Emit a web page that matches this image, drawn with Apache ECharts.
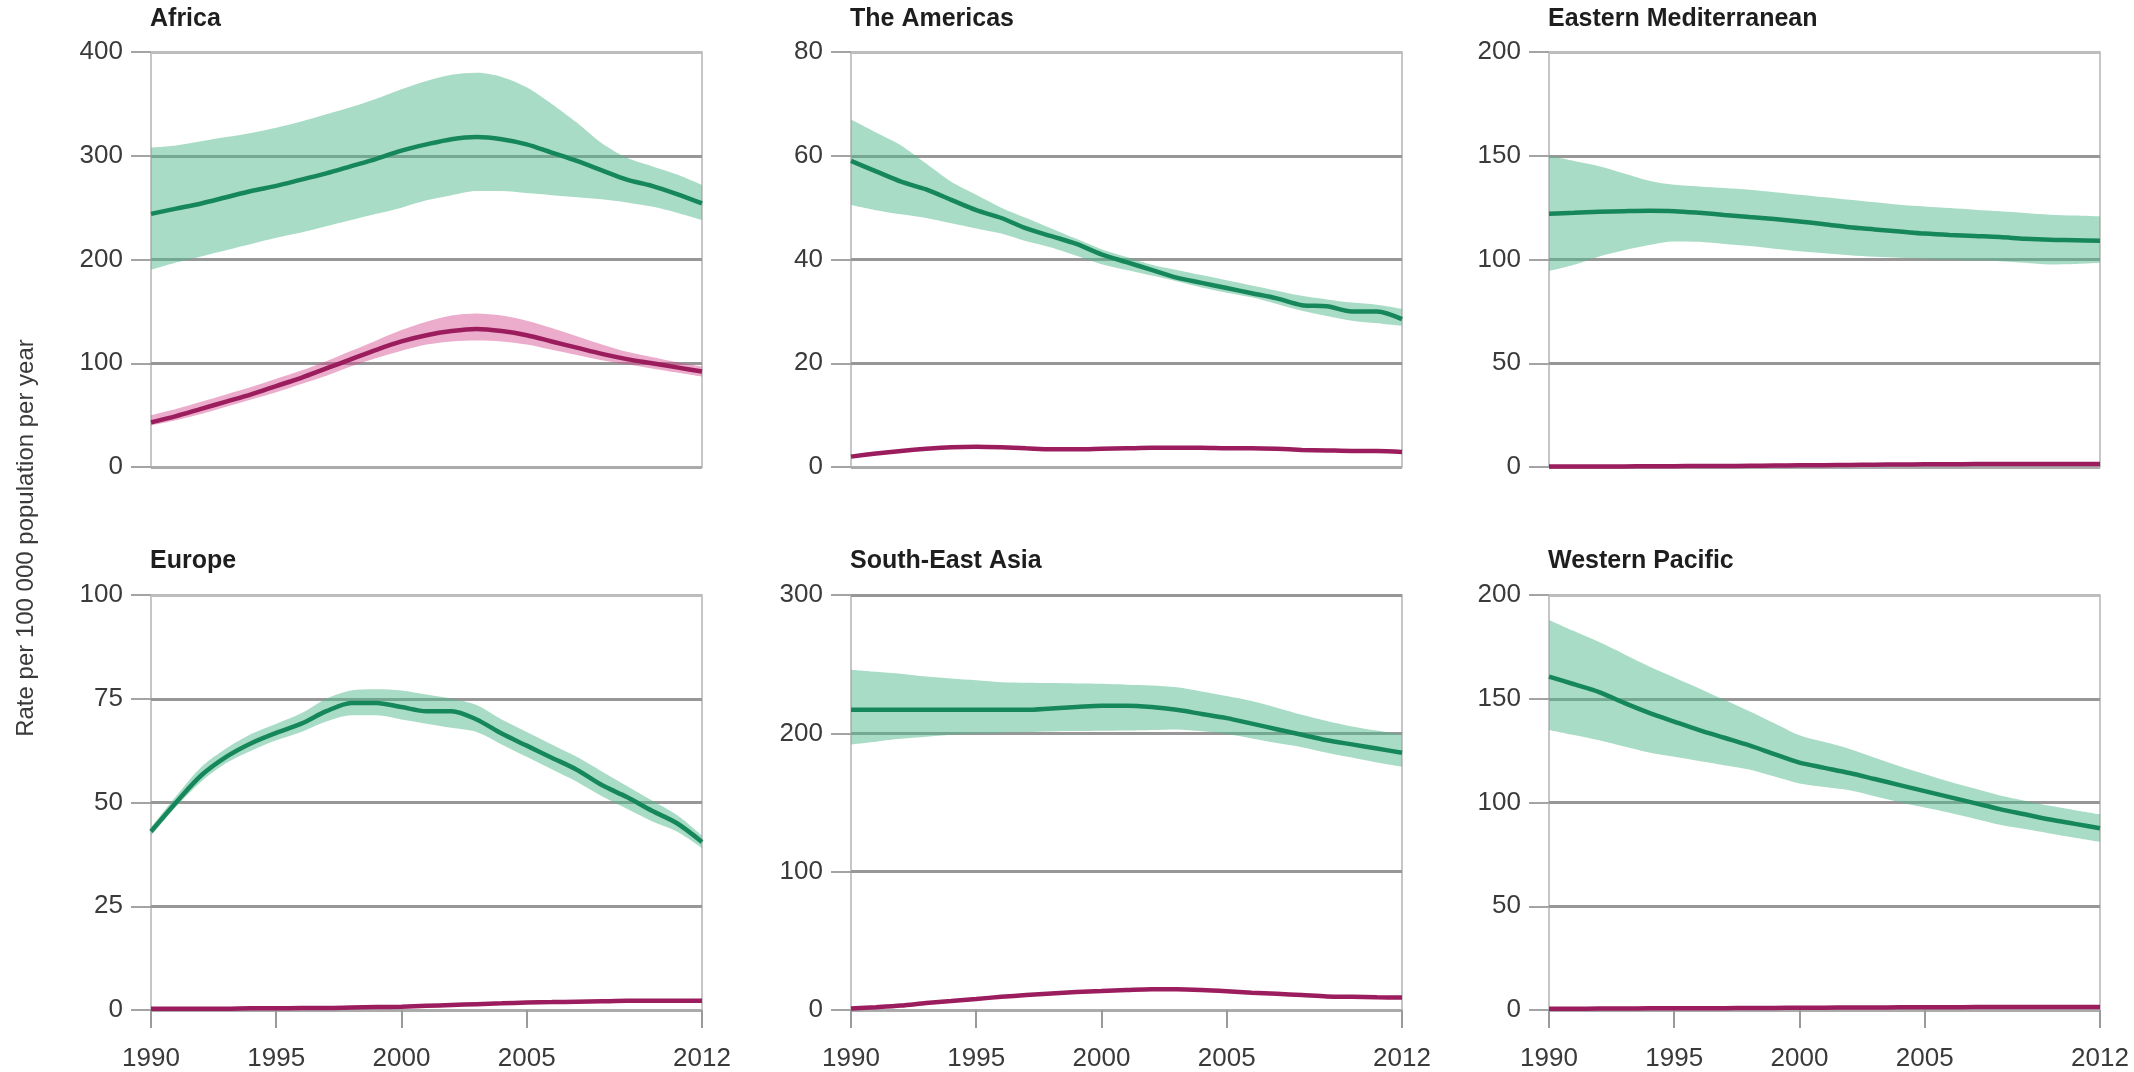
<!DOCTYPE html>
<html>
<head>
<meta charset="utf-8">
<script src="https://cdn.jsdelivr.net/npm/echarts@6/dist/echarts.min.js"></script>
<style>
html,body{margin:0;padding:0;background:#fff;}
#chart{width:2134px;height:1072px;}
</style>
</head>
<body>
<div id="chart"></div>
<script>
// ---------------- DATA ----------------
const years = ['1990','1991','1992','1993','1994','1995','1996','1997','1998','1999','2000','2001','2002','2003','2004','2005','2006','2007','2008','2009','2010','2011','2012'];
const xTickLabels = ['1990','1995','2000','2005','2012'];
const yAxisTitle = 'Rate per 100 000 population per year';

const regionNames = ['Africa','The Americas','Eastern Mediterranean','Europe','South-East Asia','Western Pacific'];
const yMax = [400, 80, 200, 100, 300, 200];
const yStep = [100, 20, 50, 25, 100, 50];

const africaGreen     = [244,249,254,260,266,271,277,283,290,297,305,311,316,318,316,311,303,295,286,277,271,263,254];
const africaGreenHigh = [308,310,314,318,322,327,333,340,347,355,364,372,378,380,376,366,350,332,312,298,290,282,272];
const africaGreenLow  = [190,197,203,209,215,221,226,232,238,244,250,257,262,266,266,264,262,260,258,255,251,245,238];
const africaPink      = [43,49,56,63,70,78,86,95,104,113,121,127,131,133,131,127,121,115,109,104,100,96,92];
const africaPinkHigh  = [50,56,63,70,77,85,93,102,112,122,132,140,146,148,146,141,134,126,118,111,106,101,97];
const africaPinkLow   = [40,45,51,58,65,72,80,88,97,105,112,118,121,122,121,118,113,108,103,99,95,91,87];

const americasGreen     = [59,57,55,53.5,51.5,49.5,48,46,44.5,43,41,39.5,38,36.5,35.5,34.5,33.5,32.5,31.2,31,30,30,28.5];
const americasGreenHigh = [67,64.5,62,58.5,55,52.5,50,48,46,44,42,40.5,39,38,37,36,35,34,33,32.3,31.7,31.3,30.5];
const americasGreenLow  = [50.5,49.5,48.7,48,47,46,45,43.5,42.3,40.7,39.1,38,36.9,35.8,34.6,33.6,32.7,31.4,30.1,29.1,28.2,27.7,27.2];
const americasPink      = [2,2.6,3.1,3.5,3.8,3.9,3.8,3.6,3.4,3.4,3.5,3.6,3.7,3.7,3.7,3.6,3.6,3.5,3.3,3.2,3.1,3.1,2.9];

const emGreen     = [122,122.5,123,123.3,123.5,123.3,122.5,121.5,120.5,119.5,118.3,117,115.5,114.5,113.5,112.5,111.8,111.3,110.8,110,109.5,109.3,109];
const emGreenHigh = [150,147.5,145,141.5,138,136,135.2,134.4,133.6,132.4,131.2,130,128.8,127.6,126.4,125.6,124.8,124,123.2,122.4,121.6,121.2,120.8];
const emGreenLow  = [94.5,97.5,101.5,104.5,107,108.7,108.5,107.5,106.5,105.2,104,103,102,101.3,100.8,100.4,100,99.6,99.2,98.4,97.6,97.8,98.4];
const emPink      = [0.2,0.2,0.3,0.3,0.4,0.4,0.5,0.5,0.6,0.7,0.8,0.9,1.0,1.1,1.2,1.3,1.3,1.4,1.4,1.5,1.5,1.5,1.5];

const europeGreen     = [43,50,56.5,61,64.3,66.8,69,72,74,74,73,72,72,70,66.6,63.7,60.8,57.9,54.2,51.3,48,45,40.5];
const europeGreenHigh = [44,51.5,58.5,63,66.5,69,71.5,75,77,77.3,77,76,75,73.5,70,67,64,61,57.5,54,50.5,47,42];
const europeGreenLow  = [42,49,55,59.5,62.5,65,67,69.5,71,71,70,69,68,67,64,61,58,55,51.5,48.5,45.5,43,39];
const europePink      = [0.3,0.3,0.3,0.3,0.4,0.4,0.5,0.5,0.6,0.7,0.8,1.0,1.2,1.4,1.6,1.8,1.9,2.0,2.1,2.2,2.2,2.2,2.2];

const seaGreen     = [217,217,217,217,217,217,217,217,218,219,220,220,219,217,214,211,207,203,199,195,192,189,186];
const seaGreenHigh = [246,244.5,243,241,239.6,238.3,237,236.6,236.3,236,235.8,235.2,234.6,233.3,230.3,227,223.4,218.5,213.4,209,205,202,199];
const seaGreenLow  = [192,194,196,197.5,199,199.8,200.4,201,201.4,201.6,201.8,202,202.4,202.8,201.5,199.5,196.3,193,190,186,182.5,179,176];
const seaPink      = [1,2,3.2,5,6.5,8,9.5,10.8,12,13,13.7,14.4,15,15,14.5,13.6,12.5,11.7,10.8,9.8,9.5,9.2,9];

const wpGreen     = [160.7,157,153.2,148,143.2,139,134.9,131.2,127.5,123.3,119.2,116.7,114.2,111.3,108.4,105.5,102.6,99.7,96.8,94.3,91.8,89.7,87.6];
const wpGreenHigh = [188,182.6,177.3,171.5,165.6,160.3,155,149.5,144,138.2,132.4,129.1,125.8,121.6,117.5,113.7,110,106.7,103.4,100.9,98.4,96.3,94.3];
const wpGreenLow  = [135,132.5,130,127,124.1,122,120,118,115.9,112.5,109.2,107.5,105.9,103,100.1,97.6,95.1,92.2,89.3,87.2,85.1,83,81];
const wpPink      = [0.6,0.6,0.7,0.7,0.8,0.8,0.9,0.9,1.0,1.0,1.1,1.1,1.2,1.2,1.3,1.3,1.3,1.4,1.4,1.4,1.4,1.4,1.4];

// ---------------- STYLE / LAYOUT ----------------
const FONT = "'Liberation Sans', Arial, sans-serif";
const GREEN = '#16875a';
const GREEN_BAND = 'rgba(83,185,141,0.5)';
const PINK = '#9b1d5e';
const PINK_BAND = 'rgba(213,70,140,0.45)';

const colLeft = [151, 851, 1549];
const plotW = 551;
const rowTop = [52, 595];
const plotH = 415;
const titleTop = [7, 549];

const panels = [
  {green: africaGreen, gLo: africaGreenLow, gHi: africaGreenHigh, pink: africaPink, pLo: africaPinkLow, pHi: africaPinkHigh},
  {green: americasGreen, gLo: americasGreenLow, gHi: americasGreenHigh, pink: americasPink},
  {green: emGreen, gLo: emGreenLow, gHi: emGreenHigh, pink: emPink},
  {green: europeGreen, gLo: europeGreenLow, gHi: europeGreenHigh, pink: europePink},
  {green: seaGreen, gLo: seaGreenLow, gHi: seaGreenHigh, pink: seaPink},
  {green: wpGreen, gLo: wpGreenLow, gHi: wpGreenHigh, pink: wpPink}
];

const grid = [], xAxis = [], yAxis = [], series = [], title = [];

panels.forEach((p, i) => {
  const row = Math.floor(i / 3), col = i % 3;
  const bottomRow = row === 1;
  grid.push({
    left: colLeft[col], top: rowTop[row], width: plotW, height: plotH,
    show: true, borderColor: '#b4b4b4', borderWidth: 1.5, backgroundColor: 'transparent'
  });
  title.push({
    text: regionNames[i], left: colLeft[col] - 1, top: titleTop[row], padding: 0,
    textStyle: {fontFamily: FONT, fontSize: 25, fontWeight: 'bold', color: '#1e1e1e'}
  });
  xAxis.push({
    type: 'category', gridIndex: i, data: years, boundaryGap: false,
    axisLine: {show: false},
    axisTick: {show: bottomRow, length: 18, interval: (idx, v) => xTickLabels.includes(v),
               lineStyle: {color: '#9a9a9a', width: 2}},
    axisLabel: {show: bottomRow, interval: (idx, v) => xTickLabels.includes(v), margin: 36,
                fontFamily: FONT, fontSize: 26, color: '#3a3a3a'},
    splitLine: {show: false}
  });
  yAxis.push({
    type: 'value', gridIndex: i, min: 0, max: yMax[i], interval: yStep[i],
    axisLine: {show: false},
    axisTick: {show: true, length: 20, lineStyle: {color: '#a4a4a4', width: 2}},
    axisLabel: {margin: 28, fontFamily: FONT, fontSize: 26, color: '#3a3a3a'},
    splitLine: {show: true, lineStyle: {color: ['#ababab','#979797','#979797','#979797','#bdbdbd'], width: 3}}
  });

  // green uncertainty band (stacked: low + (high-low))
  series.push({
    type: 'line', xAxisIndex: i, yAxisIndex: i, stack: 'g' + i, data: p.gLo,
    symbol: 'none', smooth: 0.3, lineStyle: {width: 0, opacity: 0}, silent: true
  });
  series.push({
    type: 'line', xAxisIndex: i, yAxisIndex: i, stack: 'g' + i,
    data: p.gHi.map((h, k) => +(h - p.gLo[k]).toFixed(3)),
    symbol: 'none', smooth: 0.3, lineStyle: {width: 0, opacity: 0},
    areaStyle: {color: GREEN_BAND, opacity: 1}, silent: true
  });
  if (p.pLo) {
    series.push({
      type: 'line', xAxisIndex: i, yAxisIndex: i, stack: 'p' + i, data: p.pLo,
      symbol: 'none', smooth: 0.3, lineStyle: {width: 0, opacity: 0}, silent: true
    });
    series.push({
      type: 'line', xAxisIndex: i, yAxisIndex: i, stack: 'p' + i,
      data: p.pHi.map((h, k) => +(h - p.pLo[k]).toFixed(3)),
      symbol: 'none', smooth: 0.3, lineStyle: {width: 0, opacity: 0},
      areaStyle: {color: PINK_BAND, opacity: 1}, silent: true
    });
  }
  series.push({
    type: 'line', xAxisIndex: i, yAxisIndex: i, data: p.green,
    symbol: 'none', smooth: 0.3, lineStyle: {color: GREEN, width: 4.5}
  });
  series.push({
    type: 'line', xAxisIndex: i, yAxisIndex: i, data: p.pink, clip: false,
    symbol: 'none', smooth: 0.3, lineStyle: {color: PINK, width: 4.5}
  });
});

const chart = echarts.init(document.getElementById('chart'));
chart.setOption({
  animation: false,
  backgroundColor: '#ffffff',
  title: title,
  grid: grid,
  xAxis: xAxis,
  yAxis: yAxis,
  series: series,
  graphic: [{
    type: 'text', x: 26, y: 538, rotation: Math.PI / 2,
    style: {text: yAxisTitle, fontFamily: FONT, fontSize: 24, fill: '#3a3a3a',
            textAlign: 'center', textVerticalAlign: 'middle'}
  }]
});
</script>
</body>
</html>
